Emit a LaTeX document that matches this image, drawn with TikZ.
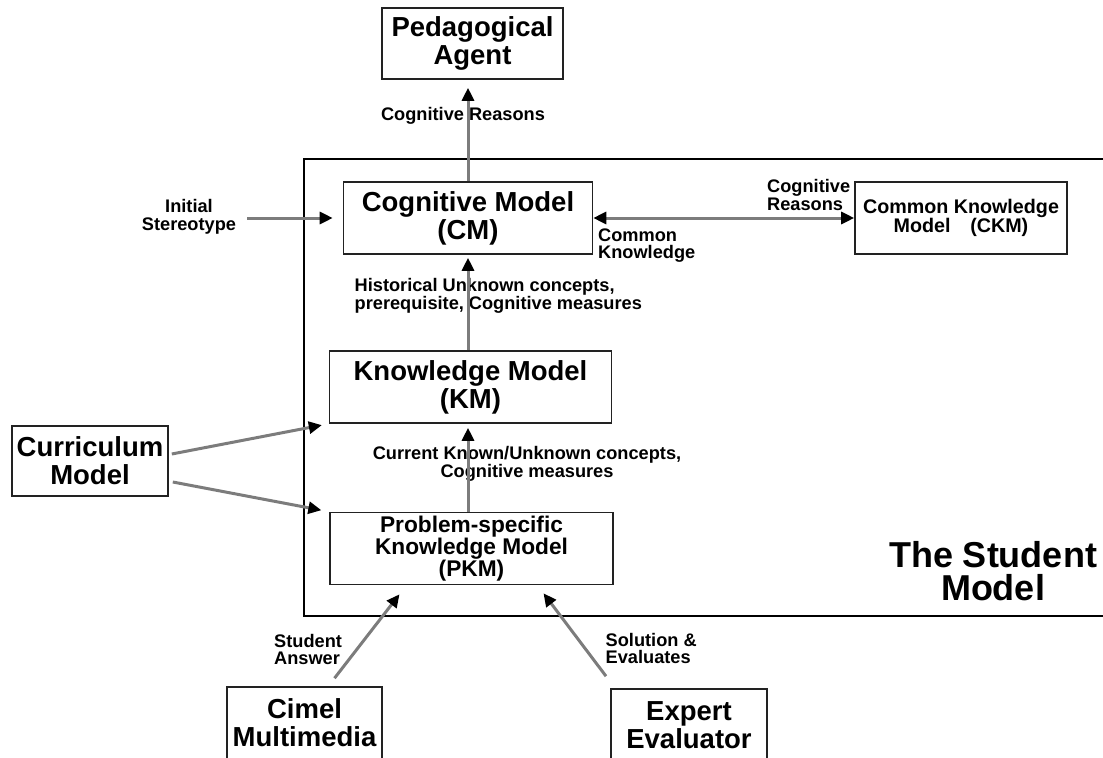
\documentclass[tikz,border=0pt]{standalone}
\usepackage{fontspec}
\setmainfont{Liberation Sans}
\usetikzlibrary{arrows.meta,calc}
\definecolor{shaft}{HTML}{7C7C7C}
\definecolor{edge}{HTML}{222222}
\newcommand\fbig{\fontsize{27.5bp}{28bp}\selectfont\bfseries}
\newcommand\fmid{\fontsize{22.7bp}{21.7bp}\selectfont\bfseries}
\newcommand\fckm{\fontsize{19.7bp}{19bp}\selectfont\bfseries}
\tikzset{pin/.style={draw=shaft, line width=3bp, -{Triangle[length=13bp, width=12bp, color=black]}},
  pinx/.style={draw=shaft, line width=3bp, {Triangle[length=13bp, width=12bp, color=black]}-{Triangle[length=13bp, width=12bp, color=black]}},
  blk/.style={draw=edge, line width=1.6bp, inner sep=0pt, align=center},
  lbl/.style={inner sep=0pt, align=left, font=\fontsize{18.2bp}{17.5bp}\selectfont\bfseries}}

\begin{document}
\begin{tikzpicture}[x=1bp, y=-1bp]
  \useasboundingbox (0,0) rectangle (1103,758);
  % the student model frame, open to the right
  \draw[draw=black, line width=1.8bp] (1103,159) -- (304,159) -- (304,616) -- (1103,616);
  \node[font=\fontsize{36bp}{33bp}\selectfont\bfseries, align=center, inner sep=0pt] (smt) at (993,571) {The Student\\Model};

  \node[blk, font=\fbig, minimum width=181bp, minimum height=71bp] (ped) at (472.5,43.5) {Pedagogical\\Agent};
  \node[blk, font=\fbig, minimum width=249bp, minimum height=72bp] (cm) at (468,218) {Cognitive Model\\(CM)};
  \node[blk, font=\fckm, minimum width=212bp, minimum height=72bp] (ckm) at (961,218) {Common Knowledge\\Model\quad(CKM)};
  \node[blk, font=\fbig, minimum width=282bp, minimum height=72bp] (km) at (470.5,387) {Knowledge Model\\(KM)};
  \node[blk, font=\fmid, minimum width=283bp, minimum height=72bp] (pkm) at (471.5,548.5) {Problem-specific\\Knowledge Model\\(PKM)};
  \node[blk, font=\fbig, minimum width=156bp, minimum height=70bp] (cur) at (90,461) {Curriculum\\Model};
  \node[blk, font=\fbig, minimum width=155bp, minimum height=72bp] (cml) at (304.5,723) {Cimel\\Multimedia};
  \node[blk, font=\fbig, minimum width=156bp, minimum height=72bp] (exp) at (689,725) {Expert\\Evaluator};

  % labels
  \node[lbl] (crp) at (463,115.5) {Cognitive Reasons};
  \node[lbl, align=center] (ist) at (189,217) {Initial\\Stereotype};
  \node[lbl, anchor=west, font=\fontsize{18.2bp}{16bp}\selectfont\bfseries] (hist) at (354.5,296) {Historical Unknown concepts,\\prerequisite, Cognitive measures};
  \node[lbl, align=center] (curk) at (527,464) {Current Known/Unknown concepts,\\Cognitive measures};
  \node[lbl, anchor=west] (crk) at (767,195) {Cognitive\\Reasons};
  \node[lbl, anchor=west] (ckn) at (598,245.5) {Common\\Knowledge};
  \node[lbl, anchor=west] (sa) at (274,649.5) {Student\\Answer};
  \node[lbl, anchor=west] (se) at (605.5,648.5) {Solution \&\\Evaluates};

  % connectors
  \coordinate (ist0) at (247,218);
  \draw[pin, shorten >=10bp] (ist0) -- (ist0 -| cm.west);
  \draw[pin, shorten >=8bp] (cm.north) -- (cm.north |- ped.south);
  \draw[pin, shorten >=3bp] (cm.south |- km.north) -- (cm.south);
  \draw[pin, shorten >=4bp] (cm.south |- pkm.north) -- (cm.south |- km.south);
  \draw[pinx] (cm.east) -- (ckm.west);
  \draw[pin, shorten >=7bp] ($(cur.east)+(3,-7)$) -- (km.south west);
  \draw[pin, shorten >=8bp] ($(cur.east)+(4,21)$) -- (pkm.north west);
  \draw[pin] ($(cml.north)+(30,-8)$) -- ($(pkm.south)+(-72,9)$);
  \draw[pin] ($(exp.north)+(-83,-12)$) -- ($(pkm.south)+(72,8)$);
\end{tikzpicture}
\end{document}
